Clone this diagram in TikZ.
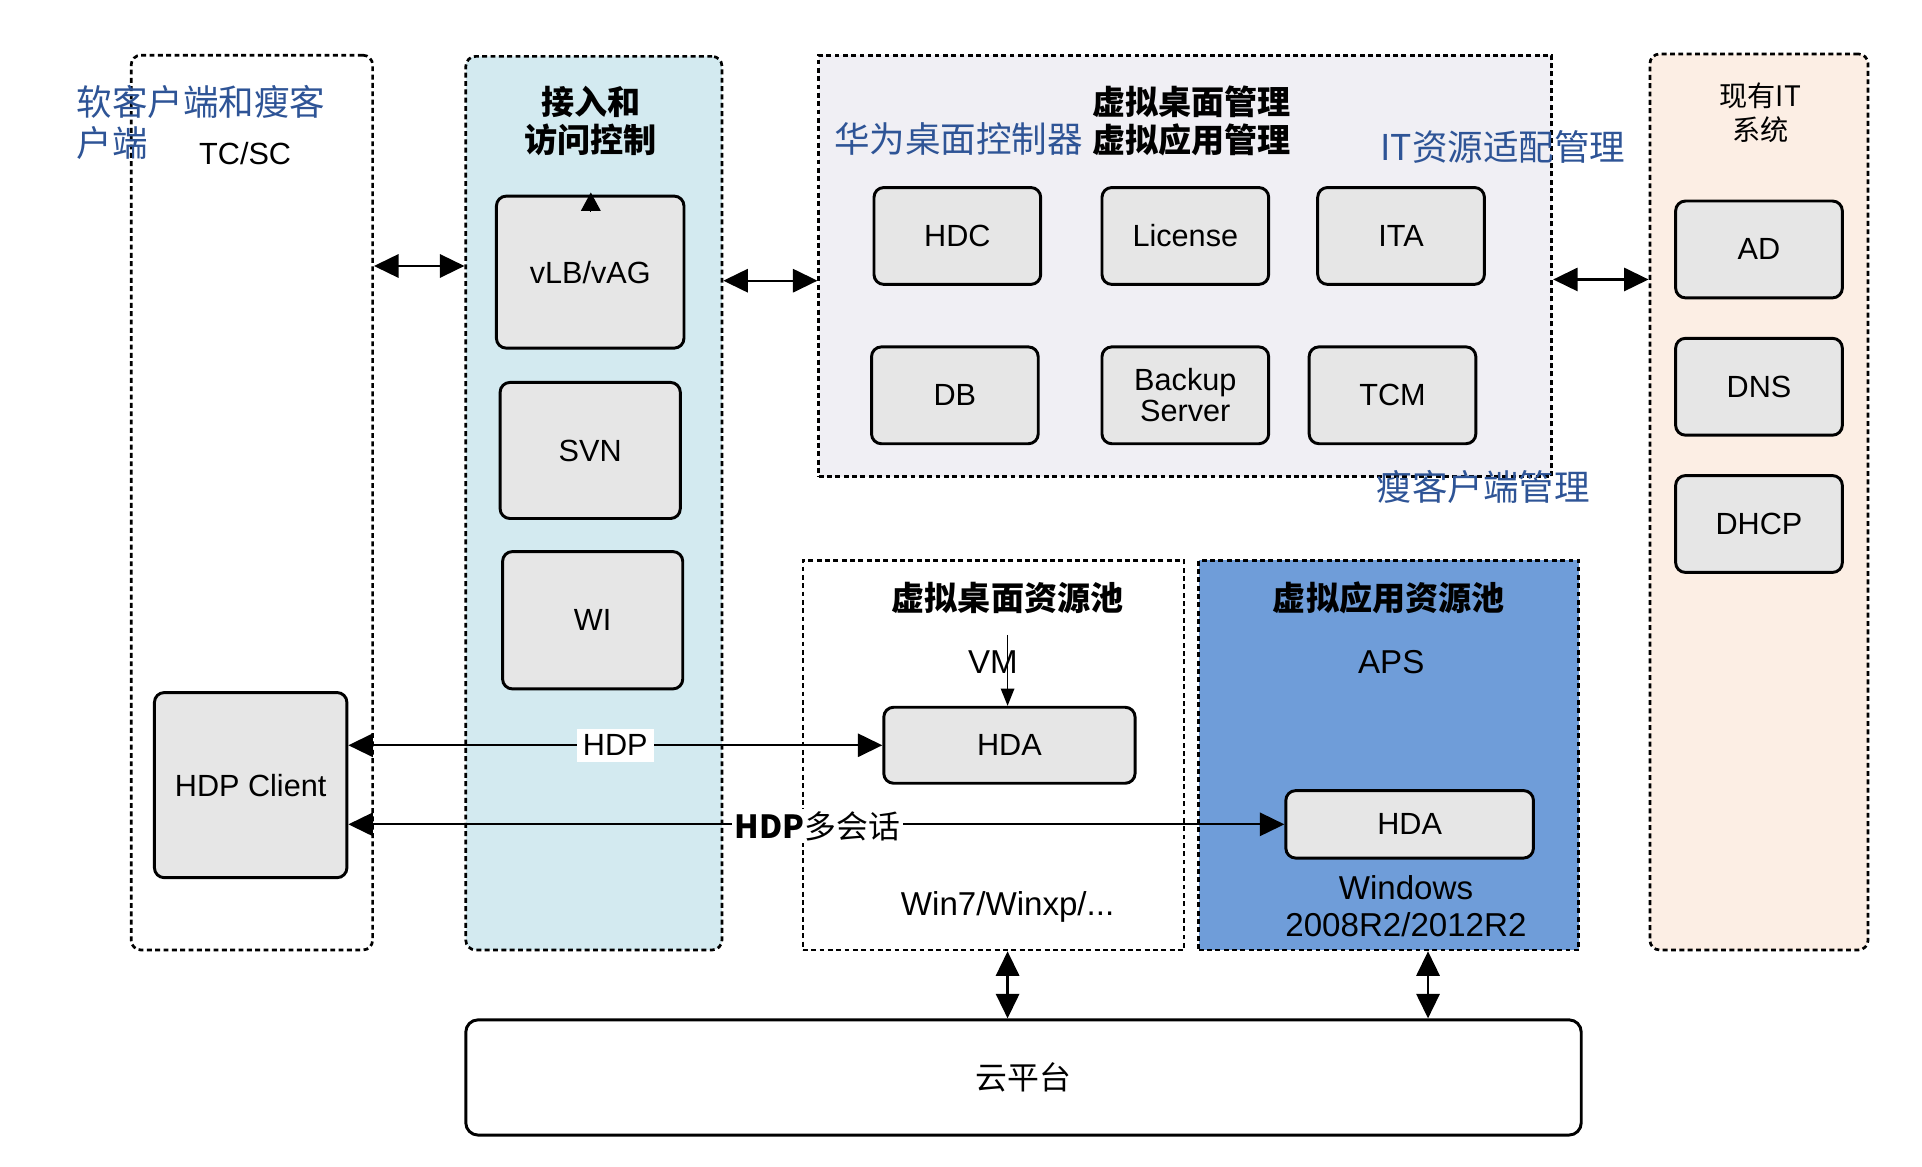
\documentclass[tikz,border=0pt]{standalone}
\usepackage{fontspec}
\setmainfont{Liberation Sans}
\newfontfamily\cjk{Noto Sans CJK SC}
\usetikzlibrary{arrows.meta,calc}
\definecolor{boxgray}{RGB}{230,230,230}
\definecolor{accfill}{RGB}{211,234,240}
\definecolor{mgmtfill}{RGB}{240,239,244}
\definecolor{itfill}{RGB}{252,238,228}
\definecolor{appfill}{RGB}{111,157,217}
\definecolor{bluetxt}{RGB}{46,84,150}
\newcommand{\latf}{\fontsize{12.5}{12.5}\selectfont}
\newcommand{\bigtxt}{\fontsize{13.5}{15}\selectfont}
\tikzset{
  box/.style={draw, line width=1.2pt, fill=boxgray, rounded corners=4pt, inner sep=0pt, font=\latf, align=center},
  grp/.style={draw, line width=1.1pt, dash pattern=on 2pt off 1.4pt, inner sep=0pt},
  dbl/.style={line width=0.9pt, {Triangle[length=10pt,width=9.5pt]}-{Triangle[length=10pt,width=9.5pt]}},
  bluet/.style={text=bluetxt, font=\cjk\fontsize{14.5}{17}\selectfont, inner sep=0pt},
  ttl/.style={font=\cjk\bfseries\fontsize{13.5}{15.5}\selectfont, align=center, inner sep=0pt},
  plain/.style={inner sep=0pt, align=center}
}
\begin{document}
\begin{tikzpicture}[x=0.5pt,y=-0.5pt]
\useasboundingbox (0,0) rectangle (1568,952);
% containers
\node[grp, rounded corners=4pt, minimum width=98.5pt, minimum height=365pt] (tcsc) at (205.5,410) {};
\node[grp, rounded corners=4pt, fill=accfill, minimum width=104.5pt, minimum height=364.5pt] (acc) at (484.5,410.5) {};
\node[grp, fill=mgmtfill, minimum width=299pt, minimum height=172pt] (mgmt) at (967,217) {};
\node[grp, rounded corners=4pt, fill=itfill, minimum width=89pt, minimum height=365.5pt] (exist) at (1435,409.5) {};
\node[grp, minimum width=155.5pt, minimum height=159pt] (vdp) at (810.5,616) {};
\node[grp, fill=appfill, minimum width=155pt, minimum height=159pt] (vap) at (1133,616) {};
\node[draw, line width=1.2pt, rounded corners=5pt, minimum width=455pt, minimum height=47pt, inner sep=0pt, font=\cjk\fontsize{13}{13}\selectfont] (cloud) at (835,879) {云平台};

% texts in containers
\node[bluet, anchor=west, align=left] (softtxt) at (62,100) {软客户端和瘦客\\户端};
\node[plain, font=\latf] (tcsctxt) at (200,125) {TC/SC};
\node[ttl] (acctxt) at (482,99) {接入和\\访问控制};
\node[ttl] (mgmttxt) at (972,98.5) {虚拟桌面管理\\虚拟应用管理};
\node[bluet] (hwtxt) at (782,113) {华为桌面控制器};
\node[bluet] (ittxt) at (1226,120) {IT资源适配管理};
\node[bluet] (thintxt) at (1210,397) {瘦客户端管理};
\node[plain, font=\cjk\fontsize{11.5}{13.5}\selectfont] (exttxt) at (1436,92) {现有IT\\系统};
\node[ttl] (vdptxt) at (822,488) {虚拟桌面资源池};
\node[ttl] (vaptxt) at (1133,488) {虚拟应用资源池};
\node[plain, font=\bigtxt] (vmtxt) at (810,540) {VM};
\node[plain, font=\bigtxt] (apstxt) at (1135,540) {APS};
\node[plain, font=\bigtxt] (wintxt) at (822,740) {Win7/Winxp/...};
\node[plain, font=\bigtxt] (wsrvtxt) at (1147,739) {Windows\\2008R2/2012R2};

% boxes
\node[box, minimum width=76.5pt, minimum height=62pt] (vlb) at (481.5,222) {vLB/vAG};
\node[box, minimum width=73.5pt, minimum height=55.5pt] (svn) at (481.5,367.5) {SVN};
\node[box, minimum width=73.5pt, minimum height=56pt] (wi) at (483.5,506) {WI};
\node[box, minimum width=68pt, minimum height=39.5pt] (hdc) at (781,192.5) {HDC};
\node[box, minimum width=68pt, minimum height=39.5pt] (lic) at (967,192.5) {License};
\node[box, minimum width=68pt, minimum height=39.5pt] (ita) at (1143,192.5) {ITA};
\node[box, minimum width=68pt, minimum height=39.5pt] (db) at (779,322.5) {DB};
\node[box, minimum width=68pt, minimum height=39.5pt] (bak) at (967,322.5) {Backup\\Server};
\node[box, minimum width=68pt, minimum height=39.5pt] (tcm) at (1136,322.5) {TCM};
\node[box, minimum width=68pt, minimum height=39.5pt] (ad) at (1435,203.5) {AD};
\node[box, minimum width=68pt, minimum height=39.5pt] (dns) at (1435,315.5) {DNS};
\node[box, minimum width=68pt, minimum height=39.5pt] (dhcp) at (1435,427.5) {DHCP};
\node[box, minimum width=78.5pt, minimum height=75.5pt] (client) at (204.5,640.5) {HDP Client};
\node[box, minimum width=102.5pt, minimum height=31pt] (hda1) at (823.5,608) {HDA};
\node[box, minimum width=101pt, minimum height=27.5pt] (hda2) at (1150,672.5) {HDA};

% connectors
\draw[dbl] (tcsc.east |- 0,217) -- (acc.west |- 0,217);
\draw[dbl] (acc.east |- 0,229) -- (mgmt.west |- 0,229);
\draw[dbl] (mgmt.east |- 0,228) -- (exist.west |- 0,228);
\draw[dbl] (client.east |- hda1.west) -- node[pos=0.5, fill=white, inner sep=2.5pt, font=\latf] (hdplbl) {HDP} (hda1.west);
\draw[dbl] (client.east |- hda2.west) -- (hda2.west);
\node[fill=white, inner sep=1pt, font=\cjk\fontsize{13}{13}\selectfont] (hdpmlbl) at (667,674) {\textbf{HDP}多会话};
\coordinate (vmtop) at (822,518);
\draw[line width=0.5pt, -{Triangle[length=7pt,width=5.5pt]}] (vmtop) -- (vmtop |- hda1.north);
\coordinate (vlbtip) at (482,157);
\coordinate (vlbbase) at (482,172);
\draw[line width=0.5pt, -{Triangle[length=7.5pt,width=8pt]}] (vlbbase) -- (vlbtip);
\draw[dbl] (822,0 |- vdp.south) -- (822,0 |- cloud.north);
\draw[dbl] (1165,0 |- vap.south) -- (1165,0 |- cloud.north);
\end{tikzpicture}
\end{document}
